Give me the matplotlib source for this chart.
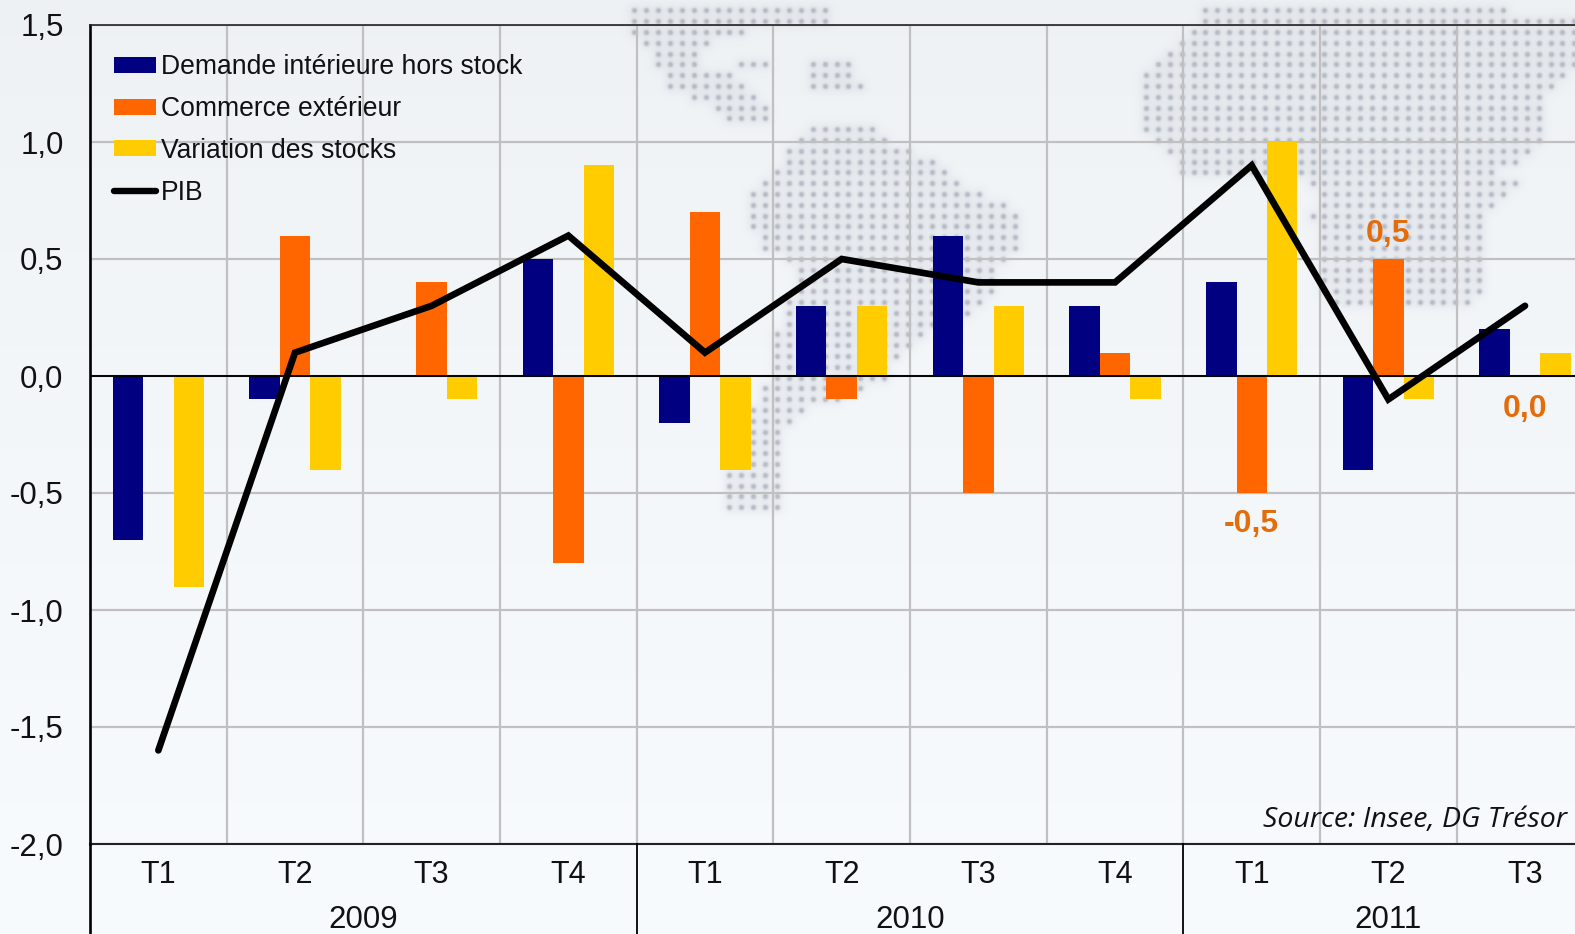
import numpy as np
import matplotlib
matplotlib.use("Agg")
import matplotlib.pyplot as plt
from matplotlib.lines import Line2D
from matplotlib.patches import Patch
from matplotlib.path import Path

# data
years = ['2009', '2010', '2011']
year_pos = [1.5, 5.5, 9]
quarters = ['T1', 'T2', 'T3', 'T4', 'T1', 'T2', 'T3', 'T4', 'T1', 'T2', 'T3']
demande = [-0.7, -0.1, 0.0, 0.5, -0.2, 0.3, 0.6, 0.3, 0.4, -0.4, 0.2]
commerce = [0.0, 0.6, 0.4, -0.8, 0.7, -0.1, -0.5, 0.1, -0.5, 0.5, 0.0]
stocks = [-0.9, -0.4, -0.1, 0.9, -0.4, 0.3, 0.3, -0.1, 1.0, -0.1, 0.1]
pib = [-1.6, 0.1, 0.3, 0.6, 0.1, 0.5, 0.4, 0.4, 0.9, -0.1, 0.3]
yticks = [1.5, 1.0, 0.5, 0.0, -0.5, -1.0, -1.5, -2.0]

NAVY = '#000080'
ORANGE = '#FF6600'
YELLOW = '#FFCC00'
LABEL = '#E46C0A'
W, H = 1575, 934

plt.rcParams['font.family'] = ['Liberation Sans', 'DejaVu Sans']
fig = plt.figure(figsize=(W / 100, H / 100), dpi=100)

# background gradient and dotted world map, in pixel coordinates
bg = fig.add_axes([0, 0, 1, 1], zorder=0)
bg.axis('off')
top = np.array([0xEE, 0xF1, 0xF4]) / 255
bottom = np.array([0xF8, 0xFB, 0xFE]) / 255
t = np.linspace(0, 1, 256)[:, None, None] ** 0.7
grad = top[None, None, :] * (1 - t) + bottom[None, None, :] * t
bg.imshow(grad, extent=[0, W, H, 0], aspect='auto', zorder=0)

# each land mass: rows of (y, left, right)
north = [(0, 628, 838), (22, 626, 830), (35, 628, 725), (50, 650, 705), (65, 655, 705),
         (78, 660, 745), (92, 672, 745), (106, 712, 772), (118, 727, 772), (127, 750, 785)]
isle1 = [(60, 735, 768), (72, 735, 768)]
isle2 = [(64, 802, 852), (92, 806, 872)]
south = [(128, 805, 882), (145, 790, 897), (165, 782, 940), (190, 750, 972), (205, 745, 1012),
         (230, 750, 1027), (250, 765, 1022), (265, 790, 1000), (290, 790, 1000), (310, 785, 978),
         (340, 770, 922), (360, 770, 897), (385, 765, 882), (415, 750, 800), (440, 755, 782),
         (460, 722, 785), (500, 722, 778), (518, 732, 782)]
eurafrica = [(0, 1205, 1312), (14, 1197, 1575), (30, 1193, 1575), (50, 1172, 1575), (70, 1147, 1575),
             (100, 1140, 1545), (125, 1140, 1545), (140, 1150, 1540), (160, 1170, 1520),
             (175, 1182, 1500), (182, 1300, 1522), (200, 1320, 1510), (215, 1312, 1490),
             (240, 1315, 1480), (260, 1320, 1480), (290, 1316, 1482), (305, 1330, 1475)]
lands = [north, isle1, isle2, south, eurafrica]

gx, gy = np.meshgrid(np.arange(4, W, 11.9), np.arange(0, 530, 10.8))
grid = np.column_stack([gx.ravel(), gy.ravel()])
canvas = np.zeros((H, W))
for rows in lands:
    outline = [(l, y) for y, l, r in rows] + [(r, y) for y, l, r in rows[::-1]]
    pts = grid[Path(outline).contains_points(grid)]
    canvas[pts[:, 1].astype(int), pts[:, 0].astype(int)] = 1


def blur(img, sigma):
    # pad so the fft does not wrap dots round the edges
    pad = 40
    big = np.pad(img, pad)
    fy = np.fft.fftfreq(big.shape[0])[:, None]
    fx = np.fft.rfftfreq(big.shape[1])[None, :]
    damp = np.exp(-2 * (np.pi * sigma) ** 2 * (fx ** 2 + fy ** 2))
    out = np.fft.irfft2(np.fft.rfft2(big) * damp, s=big.shape)
    return out[pad:-pad, pad:-pad]


alpha = 16 * blur(canvas, 1.7) + 20 * blur(canvas, 5.0)
dots = np.zeros((H, W, 4))
dots[..., :3] = np.array([0xA6, 0xAA, 0xB6]) / 255
dots[..., 3] = np.clip(alpha, 0, 0.75)
bg.imshow(dots, extent=[0, W, H, 0], aspect='auto', interpolation='nearest', zorder=1)
bg.set_xlim(0, W)
bg.set_ylim(H, 0)

# main chart, its right end runs past the picture
cat_w = 136.67
ax = fig.add_axes([90 / W, (H - 844) / H, 11 * cat_w / W, 819 / H], zorder=1)
ax.patch.set_alpha(0)
x = np.arange(len(quarters))
w = 1 / 4.5
ax.bar(x - w, demande, w, color=NAVY, zorder=3)
ax.bar(x, commerce, w, color=ORANGE, zorder=3)
ax.bar(x + w, stocks, w, color=YELLOW, zorder=3)
ax.axhline(0, color='black', lw=1.4, zorder=4)
ax.plot(x, pib, color='black', lw=4.8, solid_capstyle='round', solid_joinstyle='miter', zorder=5)

ax.set_xlim(-0.5, len(quarters) - 0.5)
ax.set_ylim(-2.0, 1.5)
ax.set_yticks(yticks)
ax.set_yticklabels([f'{v:.1f}'.replace('.', ',') for v in yticks], fontsize=22.5, color='#111111')
ax.tick_params(axis='y', length=0, pad=19)
ax.tick_params(axis='x', length=0, labelbottom=False)
ax.set_xticks(np.arange(-0.5, len(quarters), 1))
ax.grid(True, color='#c0c0c0', lw=1.6, zorder=1)
ax.set_axisbelow(True)
ax.spines['right'].set_visible(False)
ax.spines['left'].set_linewidth(1.9)
ax.spines['top'].set_linewidth(1.2)
ax.spines['top'].set_color('#222222')
ax.spines['bottom'].set_linewidth(1.5)
ax.spines['bottom'].set_color('#222222')

# two level category axis
tr = ax.get_xaxis_transform()
for i, q in enumerate(quarters):
    ax.annotate(q, (i, 0), xycoords=tr, xytext=(0, -31), textcoords='offset pixels',
                ha='center', va='center', fontsize=22, color='#111111', annotation_clip=False)
for xc, y_lab in zip(year_pos, years):
    ax.annotate(y_lab, (xc, 0), xycoords=tr, xytext=(0, -76), textcoords='offset pixels',
                ha='center', va='center', fontsize=22.5, color='#111111', annotation_clip=False)
for xs in [-0.5, 3.5, 7.5]:
    ax.plot([xs, xs], [0, -0.12], transform=tr, color='black',
            lw=1.9 if xs < 0 else 1.3, clip_on=False, zorder=6)

# labels on the last commerce bars
ax.annotate('-0,5', (8, -0.5), xytext=(0, -31), textcoords='offset pixels', ha='center', va='center',
            fontsize=23, fontweight='bold', color=LABEL, zorder=7)
ax.annotate('0,5', (9, 0.5), xytext=(0, 25), textcoords='offset pixels', ha='center', va='center',
            fontsize=23, fontweight='bold', color=LABEL, zorder=7)
ax.annotate('0,0', (10, 0.0), xytext=(0, -33), textcoords='offset pixels', ha='center', va='center',
            fontsize=23, fontweight='bold', color=LABEL, zorder=7)

fig.text(1567 / W, 1 - 820 / H, 'Source: Insee, DG Trésor', ha='right', va='center',
         fontsize=20.5, style='italic', family='Open Sans', color='#111111', zorder=8)

handles = [Patch(color=NAVY, lw=0), Patch(color=ORANGE, lw=0), Patch(color=YELLOW, lw=0),
           Line2D([0], [0], color='black', lw=4.6, solid_capstyle='round')]
names = ['Demande intérieure hors stock', 'Commerce extérieur', 'Variation des stocks', 'PIB']
leg = ax.legend(handles, names, loc='upper left', bbox_to_anchor=(24 / (11 * cat_w), 1 - 29 / 819),
                bbox_transform=ax.transAxes, frameon=False, fontsize=19.1, borderpad=0, borderaxespad=0,
                handlelength=1.6, handleheight=0.55, handletextpad=0.17, labelspacing=0.6)
leg.set_zorder(8)
for txt in leg.get_texts():
    txt.set_color('#111111')

fig.savefig('out.png', dpi=100)
